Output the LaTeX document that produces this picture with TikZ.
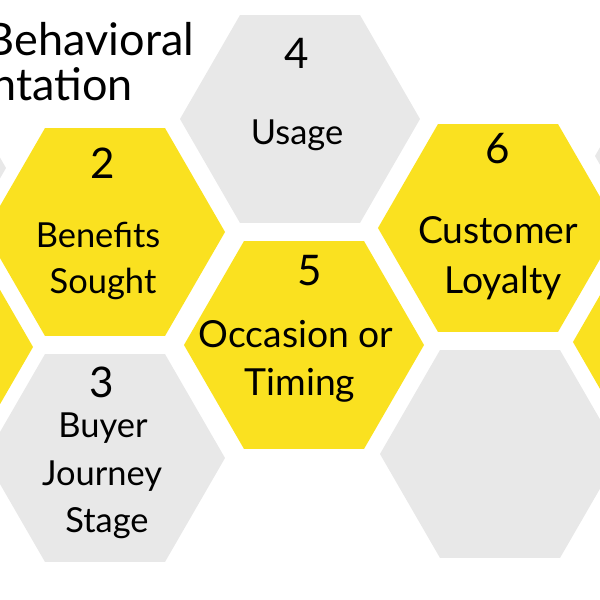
\documentclass[tikz,border=0pt]{standalone}
\usepackage{fontspec}
\setmainfont{Lato}
\usetikzlibrary{shapes.geometric, positioning}
\definecolor{HiveYellow}{RGB}{250,225,32}
\definecolor{HiveGrey}{RGB}{232,232,232}

\begin{document}
\begin{tikzpicture}
[
    x = 0.025cm, y = -0.025cm,
    every node/.style = {inner sep = 0pt, outer sep = 0pt}
  ]

  \tikzset{HexStyle/.style   = {regular polygon,
                                regular polygon sides = 6,
                                minimum size          = 6cm},
           YellowHex/.style  = {HexStyle, fill = HiveYellow},
           GreyHex/.style    = {HexStyle, fill = HiveGrey},
           NumStyle/.style   = {anchor = base, font = \fontsize{30}{36}\selectfont},
           LabelStyle/.style = {anchor = base, font = \fontsize{24.5}{29}\selectfont},
           BigLabel/.style   = {anchor = base, font = \fontsize{26.5}{32}\selectfont},
           TitleStyle/.style = {anchor = base east, font = \fontsize{32}{38}\selectfont}}

  \useasboundingbox (0,0) rectangle (600,600);
  \clip (0,0) rectangle (600,600);

  % honeycomb
  \node[GreyHex]   (hexL1) at (-114,168) {};
  \node[YellowHex] (hexL2) at (-87,347)  {};
  \node[YellowHex] (hex2)  at (105,232)  {};
  \node[GreyHex]   (hex3)  at (105,458)  {};
  \node[GreyHex]   (hex4)  at (300,119)  {};
  \node[YellowHex] (hex5)  at (304,345)  {};
  \node[YellowHex] (hex6)  at (498,228)  {};
  \node[GreyHex]   (hex7)  at (500,454)  {};
  \node[GreyHex]   (hexR1) at (715,156)  {};
  \node[YellowHex] (hexR2) at (693,342)  {};

  % title
  \node[TitleStyle] (title1) at (194,55)  {Behavioral};
  \node[TitleStyle] (title2) at (133,100) {Segmentation};

  % texts
  \node[NumStyle]   (n4) at (297,68)  {4};
  \node[LabelStyle] (u4) at (297,144) {Usage};

  \node[NumStyle]   (n2)  at (103,178) {2};
  \node[LabelStyle] (b2a) at (98,247)  {Benefits};
  \node[LabelStyle] (b2b) at (103,293) {Sought};

  \node[NumStyle]   (n6)  at (498,163) {6};
  \node[BigLabel]   (c6a) at (498,243) {Customer};
  \node[BigLabel]   (c6b) at (503,293) {Loyalty};

  \node[NumStyle]   (n5)  at (310,285) {5};
  \node[BigLabel]   (o5a) at (296,347) {Occasion or};
  \node[BigLabel]   (o5b) at (300,395) {Timing};

  \node[NumStyle]   (n3)  at (102,397) {3};
  \node[LabelStyle] (j3a) at (103,437) {Buyer};
  \node[LabelStyle] (j3b) at (102,485) {Journey};
  \node[LabelStyle] (j3c) at (107,532) {Stage};

\end{tikzpicture}
\end{document}
